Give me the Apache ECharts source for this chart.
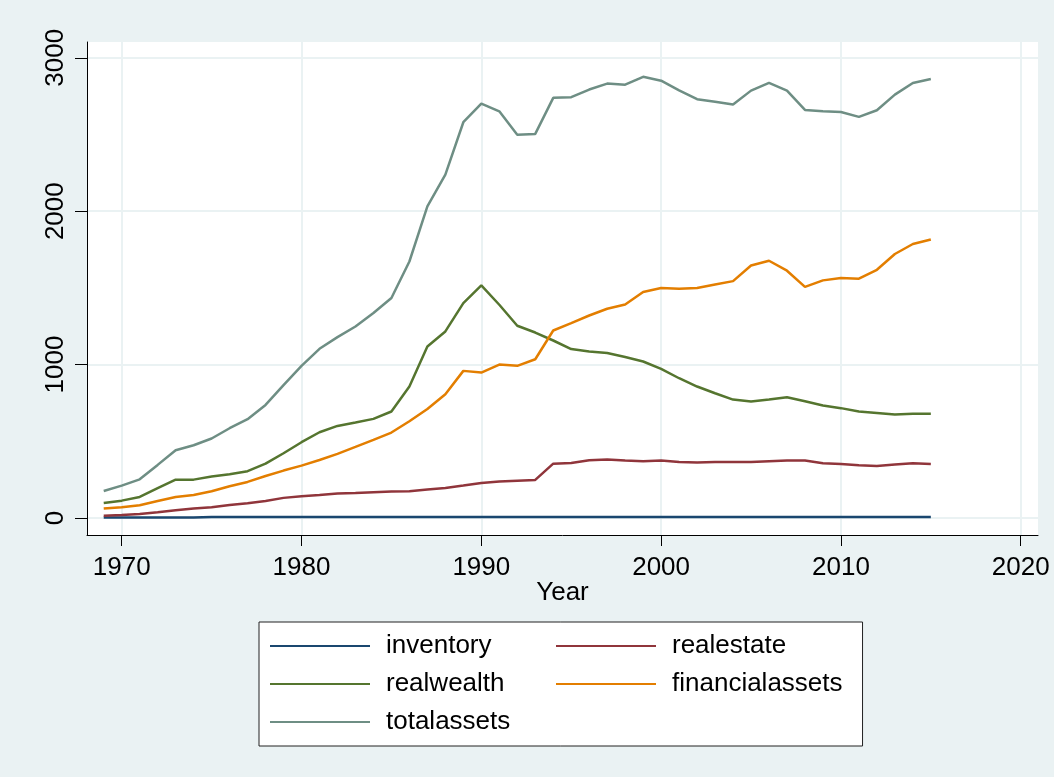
<!DOCTYPE html>
<html>
<head>
<meta charset="utf-8">
<script src="https://cdn.jsdelivr.net/npm/echarts@6/dist/echarts.min.js"></script>
<style>html,body{margin:0;padding:0;background:#eaf2f3;}#c{width:1054px;height:777px;}</style>
</head>
<body>
<div id="c"></div>
<script>
const years = [1969,1970,1971,1972,1973,1974,1975,1976,1977,1978,1979,1980,1981,1982,1983,1984,1985,1986,1987,1988,1989,1990,1991,1992,1993,1994,1995,1996,1997,1998,1999,2000,2001,2002,2003,2004,2005,2006,2007,2008,2009,2010,2011,2012,2013,2014,2015];
const inventory = [3,3,3,3,3,3,6,6,6,6,6,6,6,6,6,6,6,6,6,6,6,6,6,6,6,6,6,6,6,6,6,6,6,6,6,6,6,6,6,6,6,6,6,6,6,6,6];
const realestate = [15,20,26,37,50,61,70,85,96,111,131,142,150,159,163,168,172,174,185,196,211,228,237,243,248,354,359,376,381,374,370,374,365,361,365,365,365,370,374,374,357,352,344,339,348,357,352];
const realwealth = [98,113,137,194,250,250,270,285,305,354,422,494,559,600,622,646,694,857,1118,1216,1401,1516,1390,1253,1209,1157,1101,1085,1075,1049,1020,972,911,857,813,772,759,772,787,761,733,716,694,685,674,679,679];
const financialassets = [61,70,83,111,137,150,174,207,235,274,309,341,378,418,463,509,557,631,711,807,959,948,1000,992,1035,1222,1270,1320,1364,1392,1473,1499,1494,1499,1522,1544,1646,1677,1612,1507,1549,1564,1560,1618,1721,1786,1816];
const totalassets = [176,211,252,346,442,474,518,585,644,737,866,992,1103,1179,1248,1336,1434,1672,2031,2238,2580,2701,2651,2499,2504,2739,2743,2793,2832,2825,2876,2851,2788,2730,2714,2695,2786,2836,2786,2660,2651,2647,2615,2658,2760,2836,2862];
const xTicks = [1970,1980,1990,2000,2010,2020];
const yTicks = [0,1000,2000,3000];
const seriesNames = ['inventory','realestate','realwealth','financialassets','totalassets'];
const seriesColors = ['#1a476f','#90353b','#55752f','#e37e00','#6e8e84'];
const seriesValues = [inventory, realestate, realwealth, financialassets, totalassets];

const font = "'Liberation Sans', Arial, sans-serif";
const chart = echarts.init(document.getElementById('c'), null, {renderer:'canvas'});
chart.setOption({
  backgroundColor: '#eaf2f3',
  animation: false,
  grid: {left: 87, right: 16, top: 42, bottom: 242, show: true, backgroundColor: '#ffffff', borderWidth: 0, containLabel: false},
  xAxis: {
    type: 'value', min: 1968.07, max: 2020.96,
    name: 'Year', nameLocation: 'middle', nameGap: 45, nameMoveOverlap: false,
    nameTextStyle: {fontFamily: font, fontSize: 26, color: '#000'},
    axisLine: {show: true, onZero: false, lineStyle: {color: '#000', width: 1}},
    axisTick: {show: true, length: 11, customValues: xTicks, lineStyle: {color: '#000', width: 1}},
    axisLabel: {customValues: xTicks, margin: 20, fontFamily: font, fontSize: 26, color: '#000', formatter: v => String(v)},
    splitLine: {show: true, lineStyle: {color: '#eaf2f3', width: 2}}
  },
  yAxis: {
    type: 'value', min: -111, max: 3103,
    axisLine: {show: true, onZero: false, lineStyle: {color: '#000', width: 1}},
    axisTick: {show: true, length: 12, customValues: yTicks, lineStyle: {color: '#000', width: 1}},
    axisLabel: {customValues: yTicks, rotate: 90, margin: 18, fontFamily: font, fontSize: 26, color: '#000', formatter: v => String(v)},
    splitLine: {show: true, lineStyle: {color: '#eaf2f3', width: 2}}
  },
  legend: {
    left: 259, top: 622, width: 580,
    padding: [10, 20, 10, 11],
    backgroundColor: '#ffffff', borderColor: '#222', borderWidth: 1,
    icon: 'rect',
    itemWidth: 100, itemHeight: 2, itemGap: 10,
    textStyle: {fontFamily: font, fontSize: 26, color: '#000', lineHeight: 28, width: 160, padding: [0,0,0,11]},
    data: seriesNames
  },
  series: seriesNames.map((n, i) => ({
    name: n, type: 'line', symbol: 'none', showSymbol: false,
    color: seriesColors[i],
    itemStyle: {color: seriesColors[i]},
    lineStyle: {color: seriesColors[i], width: 2.5},
    data: years.map((y, j) => [y, seriesValues[i][j]])
  }))
});
</script>
</body>
</html>
